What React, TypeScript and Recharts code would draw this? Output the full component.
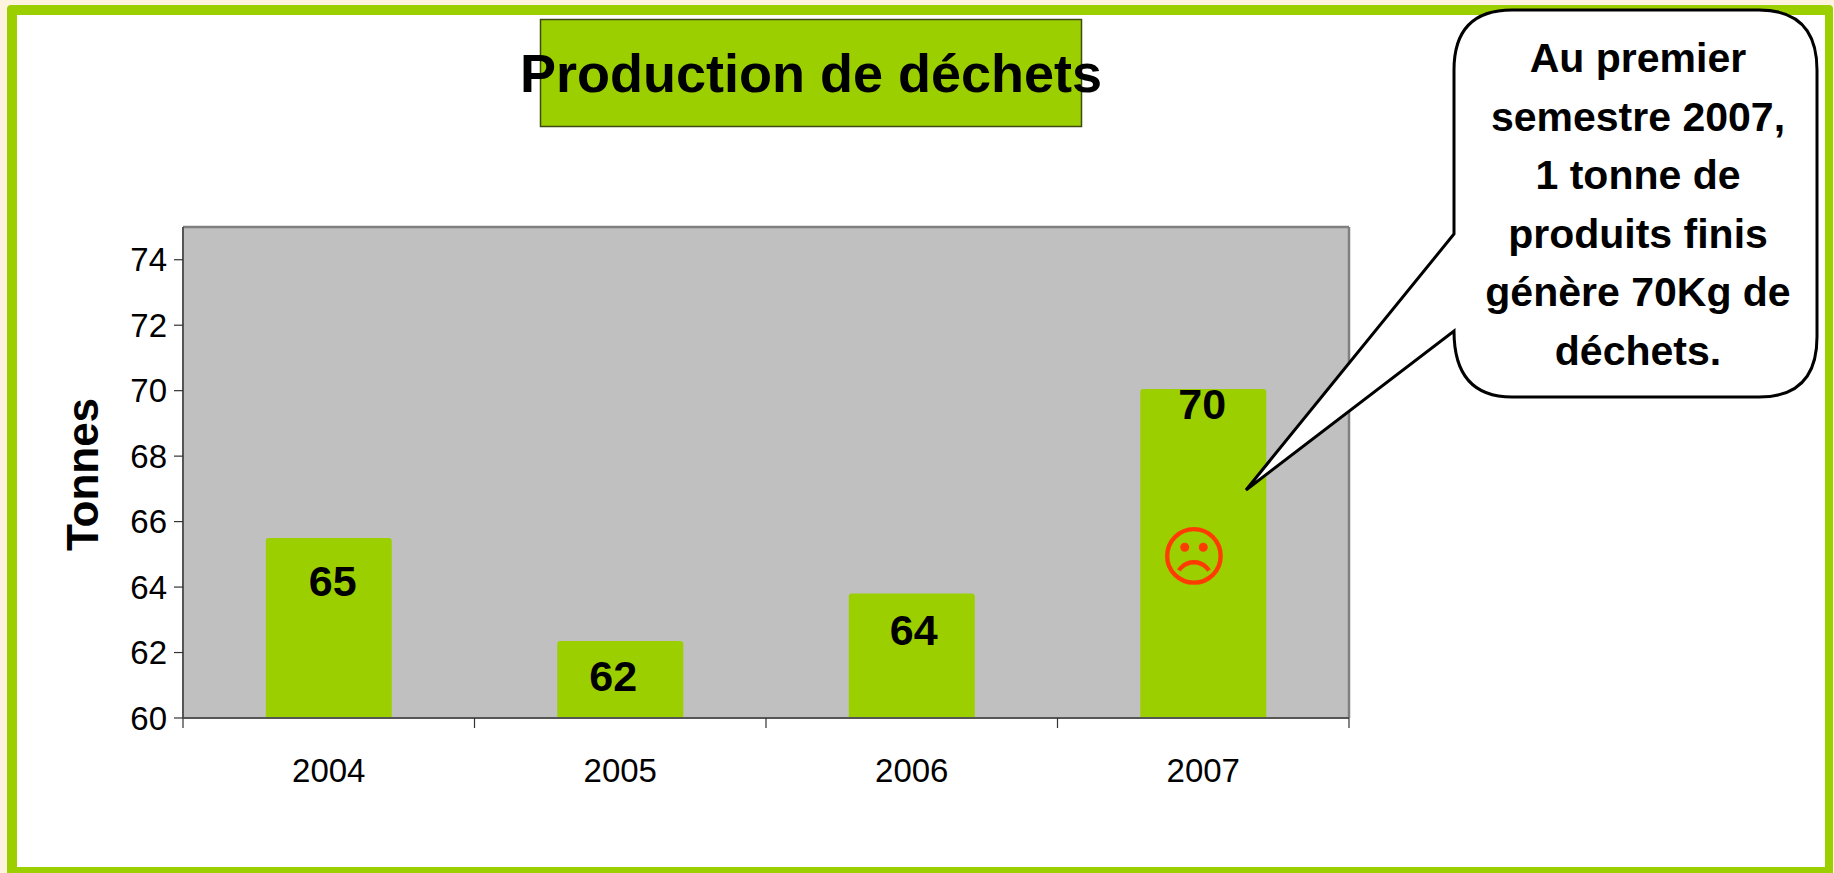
import React from "react";
import { ComposedChart, Bar, Line, LabelList, XAxis, YAxis, CartesianGrid, Label } from "recharts";

const years = ["2004", "2005", "2006", "2007"];
const tonnes = [65.5, 62.35, 63.8, 70.05];
const valueLabels = ["65", "62", "64", "70"];
const labelLevels = [64.2, 61.3, 62.7, 69.6];
const yTicks = [60, 62, 64, 66, 68, 70, 72, 74];
const titleText = "Production de déchets";
const calloutLines = ["Au premier", "semestre 2007,", "1 tonne de", "produits finis", "génère 70Kg de", "déchets."];

const data = years.map((year, i) => ({
  year,
  tonnes: tonnes[i],
  level: labelLevels[i],
  label: valueLabels[i],
}));

const GREEN = "#9ccf00";
const NARROW = "'Liberation Sans Narrow', 'Liberation Sans', Arial, sans-serif";
const SANS = "'Liberation Sans', Arial, sans-serif";

const W = 1834;
const H = 873;
const PLOT = { left: 183, right: 1349, top: 227, bottom: 718 };
const BAND = (PLOT.right - PLOT.left) / years.length;
const LABEL_NUDGE = [4, -7, 2, -1];

function XTick(props: any) {
  const { x, y, payload, index } = props;
  const left = x - BAND / 2;
  const right = x + BAND / 2;
  return (
    <g>
      <line x1={left} x2={left} y1={PLOT.bottom} y2={PLOT.bottom + 10} stroke="#333" strokeWidth={1.2} />
      {index === years.length - 1 && (
        <line x1={right} x2={right} y1={PLOT.bottom} y2={PLOT.bottom + 10} stroke="#333" strokeWidth={1.2} />
      )}
      <text x={x} y={782} textAnchor="middle" fontFamily={SANS} fontSize={33} fill="#000">
        {payload.value}
      </text>
    </g>
  );
}

function ValueLabel(props: any) {
  const { x, y, value, index } = props;
  return (
    <text
      x={x + LABEL_NUDGE[index]}
      y={y}
      dy="0.36em"
      textAnchor="middle"
      fontFamily={NARROW}
      fontWeight="bold"
      fontSize={43}
      fill="#000"
    >
      {value}
    </text>
  );
}

function Overlay() {
  const l = 1454, r = 1817, t = 10, b = 397, rx = 58, ry = 60;
  const tail = `M ${l} 234 L 1246 490 L ${l} 331`;
  const d = `M ${l + rx} ${t} H ${r - rx} Q ${r} ${t} ${r} ${t + ry} V ${b - ry} Q ${r} ${b} ${r - rx} ${b} H ${l + rx} Q ${l} ${b} ${l} 331 L 1246 490 L ${l} 234 V ${t + ry} Q ${l} ${t} ${l + rx} ${t} Z`;
  return (
    <svg width={W} height={H} style={{ position: "absolute", left: 0, top: 0, pointerEvents: "none" }}>
      <rect x={540.5} y={19.5} width={541} height={107} fill={GREEN} stroke="#3d4a10" strokeWidth={1.5} />
      <text x={811} y={92} textAnchor="middle" fontFamily={NARROW} fontWeight="bold" fontSize={54} fill="#000">
        {titleText}
      </text>
      <path d={d} fill="#fff" stroke="#000" strokeWidth={3} strokeLinejoin="miter" />
      {calloutLines.map((line, i) => (
        <text
          key={line}
          x={1638}
          y={72 + i * 58.6}
          textAnchor="middle"
          fontFamily={NARROW}
          fontWeight="bold"
          fontSize={41}
          fill="#000"
        >
          {line}
        </text>
      ))}
      <text x={1194} y={557} dy="0.35em" textAnchor="middle" fontFamily="'DejaVu Sans', sans-serif" fontSize={66} fill="#ff3c00">
        ☹
      </text>
    </svg>
  );
}

export default function App() {
  return (
    <div style={{ position: "absolute", left: 0, top: 0, width: W, height: H, background: "#fdf3de", overflow: "hidden" }}>
      <div
        style={{
          position: "absolute",
          left: 7,
          top: 5,
          width: W - 7 - 1,
          height: H - 5,
          boxSizing: "border-box",
          background: "#fff",
          borderStyle: "solid",
          borderColor: GREEN,
          borderWidth: "10px 8px 6px 10px",
          borderRadius: "4px 4px 0 0",
        }}
      />
      <div style={{ position: "absolute", left: 0, top: 0 }}>
        <ComposedChart
          width={W}
          height={H}
          data={data}
          margin={{ left: 83, right: W - PLOT.right, top: PLOT.top, bottom: H - PLOT.bottom - 70 }}
          barCategoryGap="28.4%"
        >
          <CartesianGrid
            fill="#c0c0c0"
            stroke="#808080"
            strokeWidth={2.5}
            horizontalPoints={[PLOT.top]}
            verticalPoints={[PLOT.right]}
          />
          <XAxis
            dataKey="year"
            height={70}
            axisLine={{ stroke: "#555", strokeWidth: 2 }}
            tickLine={false}
            tick={<XTick />}
            interval={0}
          />
          <YAxis
            width={100}
            domain={[60, 75]}
            ticks={yTicks}
            interval={0}
            allowDataOverflow
            axisLine={{ stroke: "#555", strokeWidth: 2 }}
            tickLine={{ stroke: "#333", strokeWidth: 1.2 }}
            tickSize={9}
            tickMargin={7}
            tick={{ fontFamily: SANS, fontSize: 33, fill: "#000" }}
          >
            <Label
              value="Tonnes"
              angle={-90}
              position="center"
              dx={-51}
              dy={2}
              style={{ fontFamily: SANS, fontWeight: "bold", fontSize: 44, fill: "#000", textAnchor: "middle" }}
            />
          </YAxis>
          <Bar dataKey="tonnes" fill={GREEN} radius={[3, 3, 0, 0]} isAnimationActive={false} />
          <Line
            dataKey="level"
            stroke="none"
            dot={false}
            activeDot={false}
            legendType="none"
            isAnimationActive={false}
          >
            <LabelList dataKey="label" content={<ValueLabel />} />
          </Line>
        </ComposedChart>
      </div>
      <Overlay />
    </div>
  );
}
